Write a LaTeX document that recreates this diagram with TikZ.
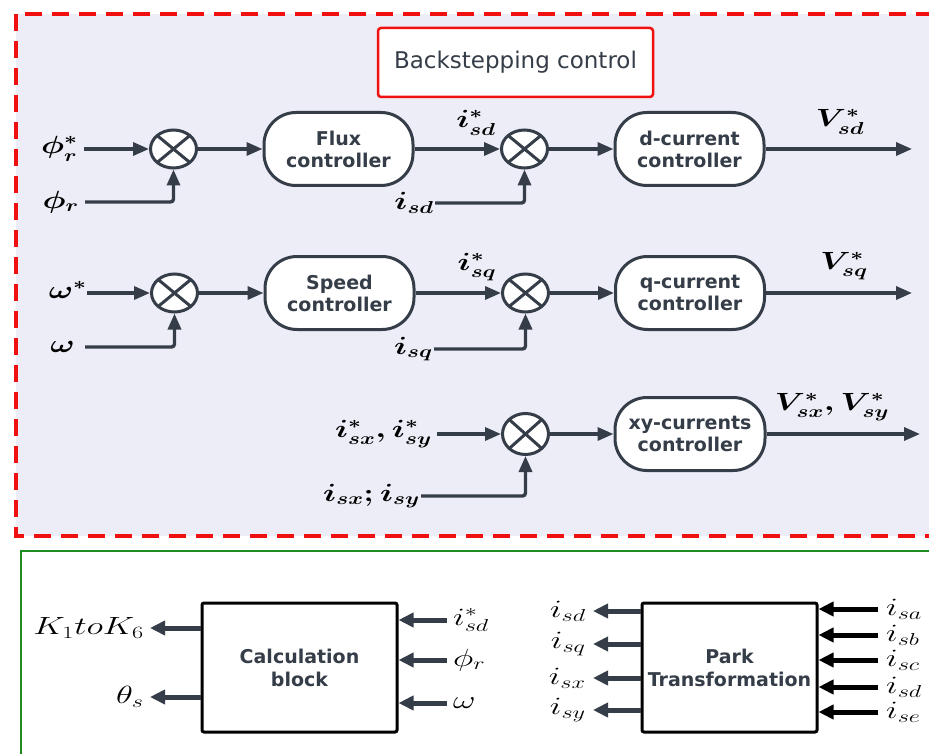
\documentclass[tikz,border=0pt]{standalone}
\usepackage{fontspec}
\newfontfamily\boxfont{DejaVu Sans}
\usetikzlibrary{arrows.meta,shapes.geometric}
\definecolor{ink}{HTML}{353D48}
\definecolor{lav}{HTML}{EDEDF7}
\definecolor{redd}{HTML}{F01010}
\definecolor{grn}{HTML}{1E8C1E}
\newcommand{\hstr}[1]{\scalebox{1.3}[1]{#1}}
\newcommand{\hstrb}[1]{\scalebox{1.4}[1]{#1}}
\tikzset{
 ctrl/.style={draw=ink, line width=3pt, fill=white, rounded corners=32pt,
   minimum width=149pt, minimum height=73pt, inner sep=0pt,
   font=\boxfont\bfseries\fontsize{19}{22}\selectfont, text=ink, align=center},
 sumj/.style={draw=ink, line width=3pt, fill=white, ellipse, inner sep=0pt,
   minimum width=46pt, minimum height=38pt,
   path picture={\draw[ink,line width=3pt]
     (path picture bounding box.north west) -- (path picture bounding box.south east)
     (path picture bounding box.south west) -- (path picture bounding box.north east);}},
 sig/.style={draw=ink, line width=3.4pt, rounded corners=3pt,
   -{Triangle[length=16pt,width=13pt]}},
 sigb/.style={draw=ink, line width=5pt, -{Triangle[length=15pt,width=14pt]}},
 sigk/.style={draw=black, line width=5pt, -{Triangle[length=15pt,width=14pt]}},
 lbl/.style={font=\fontsize{24}{26}\selectfont\boldmath, inner xsep=4pt, inner ysep=0pt},
 lblb/.style={font=\fontsize{26}{28}\selectfont, inner xsep=5pt, inner ysep=0pt},
 blk/.style={draw=black, line width=3pt, fill=white, rounded corners=2pt, inner sep=0pt,
   font=\boxfont\bfseries\fontsize{19}{23}\selectfont, text=ink, align=center},
}
\begin{document}
\begin{tikzpicture}[x=1pt,y=-1pt]
\useasboundingbox (0,0) rectangle (929,754);
\begin{scope}
\clip (0,0) rectangle (929,754);
\draw[redd, line width=3.5pt, dash pattern=on 17pt off 10pt, fill=lav] (16,14) rectangle (965,536);
\draw[grn, line width=2pt] (21,551) rectangle (965,795);
\end{scope}

% title
\node[draw=redd, line width=2.5pt, fill=white, rounded corners=3pt,
  minimum width=275pt, minimum height=69pt, inner sep=0pt,
  font=\boxfont\fontsize{23}{25}\selectfont, text=ink] (title) at (515.5,62.5) {Backstepping control};

% row 1
\node[sumj] (s1) at (173.5,149) {};
\node[ctrl] (flux) at (338.5,149) {Flux\\controller};
\node[sumj] (s2) at (524.5,149) {};
\node[ctrl] (dcur) at (689.5,149) {d-current\\controller};
\coordinate (o1) at (912,149);
\node[lbl, anchor=east, inner xsep=6pt] (phirs) at (84,149) {\hstr{$\phi_r^*$}};
\node[lbl, anchor=east, inner xsep=6pt] (phir) at (85,202) {\hstr{$\phi_r$}};
\node[lbl] (isds) at (476,123) {\hstr{$i_{sd}^*$}};
\node[lbl] (vsd) at (840,122) {\hstr{$V_{sd}^*$}};
\node[lbl, anchor=east, inner xsep=1pt] (isd) at (435,203) {\hstr{$i_{sd}$}};

% row 2
\node[sumj] (s3) at (174.5,293) {};
\node[ctrl] (speed) at (339.5,293) {Speed\\controller};
\node[sumj] (s4) at (525.5,293) {};
\node[ctrl] (qcur) at (690,293) {q-current\\controller};
\coordinate (o2) at (912,293);
\node[lbl, anchor=east, inner xsep=0pt] (ws) at (87,290) {\hstr{$\omega^*$}};
\node[lbl, anchor=east, inner xsep=10pt] (w) at (85,347) {\hstr{$\omega$}};
\node[lbl] (isqs) at (477,267) {\hstr{$i_{sq}^*$}};
\node[lbl] (vsq) at (844,266) {\hstr{$V_{sq}^*$}};
\node[lbl, anchor=east, inner xsep=1pt] (isq) at (434,349) {\hstr{$i_{sq}$}};

% row 3
\node[sumj, minimum height=41pt] (s5) at (525.5,434) {};
\node[ctrl, minimum width=150pt] (xy) at (690,434) {xy-currents\\controller};
\coordinate (o3) at (920,434);
\node[lbl, anchor=east, inner xsep=5pt] (ixys) at (437,434) {\hstr{$i_{sx}^*,i_{sy}^*$}};
\node[lbl] (vxy) at (832,407) {\hstr{$V_{sx}^*,V_{sy}^*$}};
\node[lbl, anchor=east, inner xsep=1pt] (ixy) at (421,496) {\hstr{$i_{sx};i_{sy}$}};

% connectors top
\draw[sig] (phirs.east) -- (s1.west);
\draw[sig] (s1.east) -- (flux.west);
\draw[sig] (flux.east) -- (s2.west);
\draw[sig] (s2.east) -- (dcur.west);
\draw[sig] (dcur.east) -- (o1);
\draw[sig] (phir.east) -| (s1.south);
\draw[sig] (isd.east) -| (s2.south);

\draw[sig] (ws.east |- s3.west) -- (s3.west);
\draw[sig] (s3.east) -- (speed.west);
\draw[sig] (speed.east) -- (s4.west);
\draw[sig] (s4.east) -- (qcur.west);
\draw[sig] (qcur.east) -- (o2);
\draw[sig] (w.east) -| (s3.south);
\draw[sig] (isq.east) -| (s4.south);

\draw[sig] (ixys.east) -- (s5.west);
\draw[sig] (s5.east) -- (xy.west);
\draw[sig] (xy.east) -- (o3);
\draw[sig] (ixy.east) -| (s5.south);

% bottom: calculation block
\node[blk, minimum width=195pt, minimum height=129pt] (calc) at (299.5,667.5) {Calculation\\block};
\node[lblb, anchor=east, inner xsep=6pt] (K) at (150,628) {\hstrb{$K_1toK_6$}};
\node[lblb, anchor=east, inner xsep=6pt] (th) at (150,697) {\hstrb{$\theta_s$}};
\node[lblb, anchor=west, inner xsep=6pt] (ci1) at (447,620) {\hstrb{$i_{sd}^*$}};
\node[lblb, anchor=west, inner xsep=6pt] (ci2) at (447,660) {\hstrb{$\phi_r$}};
\node[lblb, anchor=west, inner xsep=6pt] (ci3) at (447,703) {\hstrb{$\omega$}};
\draw[sigb] (calc.west |- K.east) -- (K.east);
\draw[sigb] (calc.west |- th.east) -- (th.east);
\draw[sigb] (ci1.west) -- (calc.east |- ci1.west);
\draw[sigb] (ci2.west) -- (calc.east |- ci2.west);
\draw[sigb] (ci3.west) -- (calc.east |- ci3.west);

% bottom: park
\node[blk, minimum width=175pt, minimum height=129pt] (park) at (729.5,667.5) {Park\\Transformation};
\node[lblb, anchor=east, inner xsep=7pt] (p1) at (593,611) {\hstrb{$i_{sd}$}};
\node[lblb, anchor=east, inner xsep=7pt] (p2) at (593,644) {\hstrb{$i_{sq}$}};
\node[lblb, anchor=east, inner xsep=7pt] (p3) at (593,678) {\hstrb{$i_{sx}$}};
\node[lblb, anchor=east, inner xsep=7pt] (p4) at (593,710) {\hstrb{$i_{sy}$}};
\draw[sigb] (park.west |- p1.east) -- (p1.east);
\draw[sigb] (park.west |- p2.east) -- (p2.east);
\draw[sigb] (park.west |- p3.east) -- (p3.east);
\draw[sigb] (park.west |- p4.east) -- (p4.east);
\node[lblb, anchor=west, inner xsep=8pt] (q1) at (878,609) {\hstrb{$i_{sa}$}};
\node[lblb, anchor=west, inner xsep=8pt] (q2) at (878,635) {\hstrb{$i_{sb}$}};
\node[lblb, anchor=west, inner xsep=8pt] (q3) at (878,660) {\hstrb{$i_{sc}$}};
\node[lblb, anchor=west, inner xsep=8pt] (q4) at (878,687) {\hstrb{$i_{sd}$}};
\node[lblb, anchor=west, inner xsep=8pt] (q5) at (878,712) {\hstrb{$i_{se}$}};
\draw[sigk] (q1.west) -- (park.east |- q1.west);
\draw[sigk] (q2.west) -- (park.east |- q2.west);
\draw[sigk] (q3.west) -- (park.east |- q3.west);
\draw[sigk] (q4.west) -- (park.east |- q4.west);
\draw[sigk] (q5.west) -- (park.east |- q5.west);
\end{tikzpicture}
\end{document}
